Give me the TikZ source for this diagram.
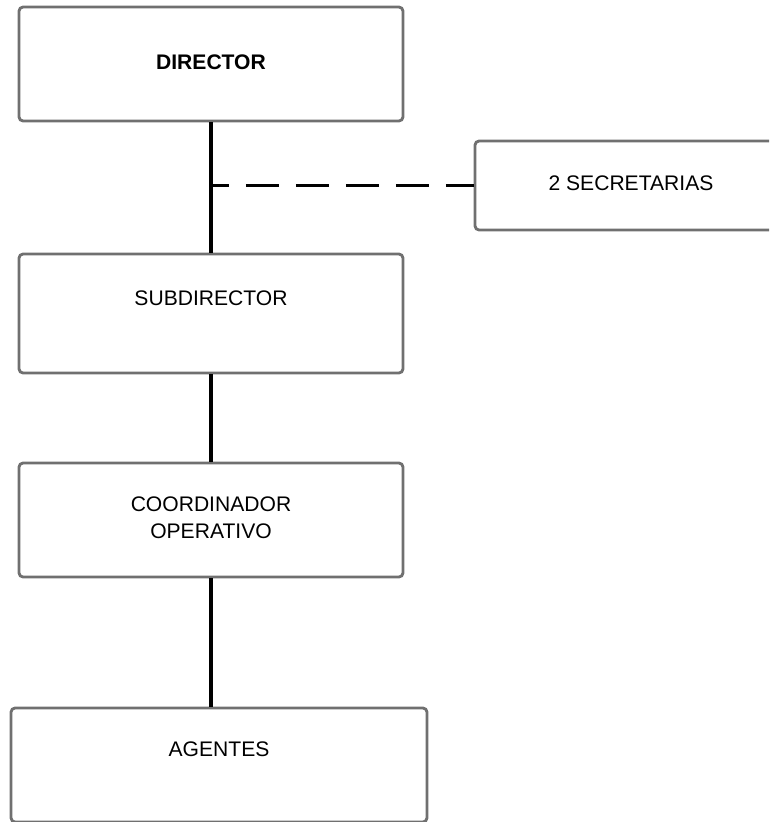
\documentclass[tikz,border=0pt]{standalone}
\usepackage{fontspec}
\setmainfont{Liberation Sans}
\usetikzlibrary{calc,positioning}
\definecolor{boxGray}{RGB}{112,112,112}

\begin{document}
\begin{tikzpicture}[x=0.02cm, y=-0.02cm,
        cargo/.style={draw=boxGray, line width=1.6pt, rounded corners=0.08cm, fill=white,
                      align=center, font=\fontsize{12}{15.4}\selectfont, inner sep=0pt,
                      text depth=0.08cm},
        linea/.style={draw=black, line width=1.8pt},
        apoyo/.style={linea, dash pattern=on 0.66cm off 0.34cm, dash phase=0.3cm}]
        \useasboundingbox (0, 0) rectangle (769, 822);
        \clip (0, 0) rectangle (769, 822);

        \node[cargo, minimum width=7.68cm, minimum height=2.28cm] (director) at (211, 64) {\textbf{DIRECTOR}};
        \node[cargo, minimum width=6.24cm, minimum height=1.78cm] (secretarias) at (631, 185.5) {2 SECRETARIAS};
        \node[cargo, minimum width=7.68cm, minimum height=2.38cm] (subdirector) at (211, 313.5) {SUBDIRECTOR\\ \mbox{}};
        \node[cargo, minimum width=7.68cm, minimum height=2.28cm] (coordinador) at (211, 520) {COORDINADOR\\OPERATIVO};
        \node[cargo, minimum width=8.32cm, minimum height=2.28cm] (agentes) at (219, 765) {AGENTES\\ \mbox{}};

        \coordinate (enlace) at (director.south |- secretarias.west);

        \draw[linea] (director.south) -- (subdirector.north);
        \draw[apoyo] (enlace) -- (secretarias.west);
        \draw[linea] (subdirector.south) -- (coordinador.north);
        \draw[linea] (coordinador.south) -- (agentes.north -| coordinador.south);

\end{tikzpicture}
\end{document}
